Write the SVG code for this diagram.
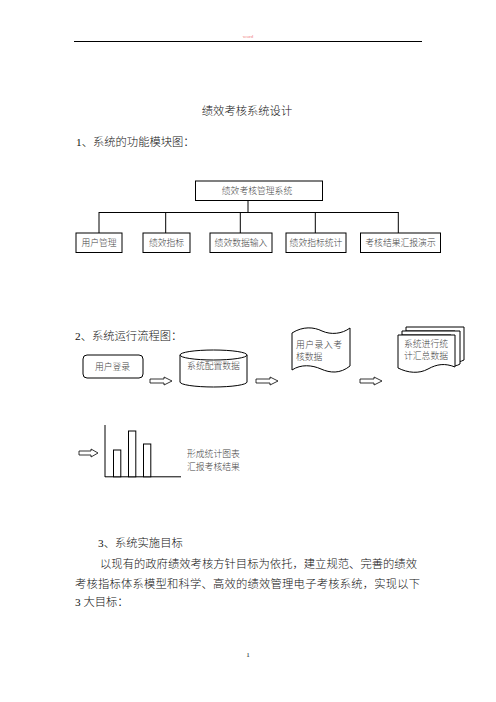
<svg xmlns="http://www.w3.org/2000/svg" width="496" height="702" viewBox="0 0 496 702">
<style>
text{font-family:"Liberation Serif","Noto Sans CJK SC",serif;fill:#111;font-weight:300}
.t{font-size:11.3px}
.s{font-size:8.8px;fill:#444}
.box{fill:#fff;stroke:#000;stroke-width:1}
.ln{fill:none;stroke:#000;stroke-width:1}
.arr{fill:#fff;stroke:#000;stroke-width:0.8}
</style>
<rect width="496" height="702" fill="#fff"/>
<g id="header">
<text x="248" y="38" font-size="5" style="fill:#f08080" text-anchor="middle">word</text>
<line x1="74" y1="41.5" x2="422" y2="41.5" stroke="#000" stroke-width="1"/>
</g>
<text class="t" x="247" y="115" text-anchor="middle" font-size="11.5">绩效考核系统设计</text>
<text class="t" x="76" y="146">1、系统的功能模块图：</text>

<g id="connectors">
<line class="ln" x1="248" y1="200" x2="248" y2="212.5" stroke="#666"/>
<line class="ln" x1="99" y1="212.5" x2="398.5" y2="212.5" stroke="#666"/>
<line class="ln" x1="99" y1="212" x2="99" y2="233"/>
<line class="ln" x1="165.7" y1="212" x2="165.7" y2="233"/>
<line class="ln" x1="240.3" y1="212" x2="240.3" y2="233"/>
<line class="ln" x1="315.3" y1="212" x2="315.3" y2="233"/>
<line class="ln" x1="398.3" y1="212" x2="398.3" y2="233"/>
<path class="arr" d="M150,379 H164 V377 L172,381 L164,385 V383 H150 Z"/>
<path class="arr" d="M256,379 H270 V377 L278,381 L270,385 V383 H256 Z"/>
<path class="arr" d="M360,379 H374 V377 L382,381 L374,385 V383 H360 Z"/>
<path class="arr" d="M79,451 H91 V449 L98,453 L91,457 V455 H79 Z"/>
</g>

<g id="root">
<rect class="box" x="195.5" y="181" width="127" height="19.5"/>
<text class="s" x="257" y="194" text-anchor="middle">绩效考核管理系统</text>
</g>
<g id="m1"><rect class="box" x="76" y="233" width="46" height="19.5"/><text class="s" x="99" y="246" text-anchor="middle">用户管理</text></g>
<g id="m2"><rect class="box" x="143" y="233" width="47" height="19.5"/><text class="s" x="166.5" y="246" text-anchor="middle">绩效指标</text></g>
<g id="m3"><rect class="box" x="210" y="233" width="62" height="19.5"/><text class="s" x="241" y="246" text-anchor="middle">绩效数据输入</text></g>
<g id="m4"><rect class="box" x="286" y="233" width="60" height="19.5"/><text class="s" x="316" y="246" text-anchor="middle">绩效指标统计</text></g>
<g id="m5"><rect class="box" x="360.5" y="233" width="80" height="19.5"/><text class="s" x="400.5" y="246" text-anchor="middle">考核结果汇报演示</text></g>

<text class="t" x="75" y="340">2、系统运行流程图：</text>

<g id="login">
<rect class="box" x="83" y="355" width="60" height="23" rx="4"/>
<text class="s" x="112.5" y="369.5" text-anchor="middle">用户登录</text>
</g>
<g id="config">
<path class="box" d="M180,355 V382 A33.5,5 0 0 0 247,382 V355"/>
<ellipse class="box" cx="213.5" cy="355" rx="33.5" ry="5"/>
<text class="s" x="213.5" y="369" text-anchor="middle">系统配置数据</text>
</g>
<g id="input">
<path class="box" d="M292,333 C303,326 314,327 322,331 C331,335 342,334 350,328 V366 C340,374 330,373 321,369 C312,365 301,364 292,370 Z"/>
<text class="s" x="296" y="348" textLength="46" lengthAdjust="spacing">用户录入考</text>
<text class="s" x="296" y="360">核数据</text>
</g>
<g id="summary">
<path class="box" d="M406,327 H464 V360 C460,362 458,362 455,361 V331 H406 Z"/>
<path class="box" d="M402,331 H460 V364 C457,366 454,366 451,365 V335 H402 Z"/>
<path class="box" d="M398,335 H455 V367 C445,363 437,364 428,369 C419,374 408,373 398,368 Z"/>
<text class="s" x="404" y="347" textLength="44" lengthAdjust="spacing">系统进行统</text>
<text class="s" x="404" y="359" textLength="44" lengthAdjust="spacing">计汇总数据</text>
</g>
<g id="chart">
<line class="ln" x1="105" y1="425" x2="105" y2="477" stroke-width="1.2"/>
<line class="ln" x1="105" y1="476.8" x2="181" y2="476.8" stroke-width="1.2"/>
<rect class="box" x="113.5" y="450" width="7.3" height="26.8"/>
<rect class="box" x="128.5" y="431" width="7.3" height="45.8"/>
<rect class="box" x="143.5" y="444" width="7.3" height="32.8"/>
<text class="s" x="187" y="456.5">形成统计图表</text>
<text class="s" x="187" y="469.5">汇报考核结果</text>
</g>

<g id="body">
<text class="t" x="98" y="547">3、系统实施目标</text>
<text class="t" x="100" y="567.5" textLength="317" lengthAdjust="spacing">以现有的政府绩效考核方针目标为依托，建立规范、完善的绩效</text>
<text class="t" x="75" y="587.5" textLength="345" lengthAdjust="spacing">考核指标体系模型和科学、高效的绩效管理电子考核系统，实现以下</text>
<text class="t" x="75" y="605.5">3 大目标：</text>
</g>
<text x="248" y="657" font-size="7" text-anchor="middle">1</text>
</svg>
